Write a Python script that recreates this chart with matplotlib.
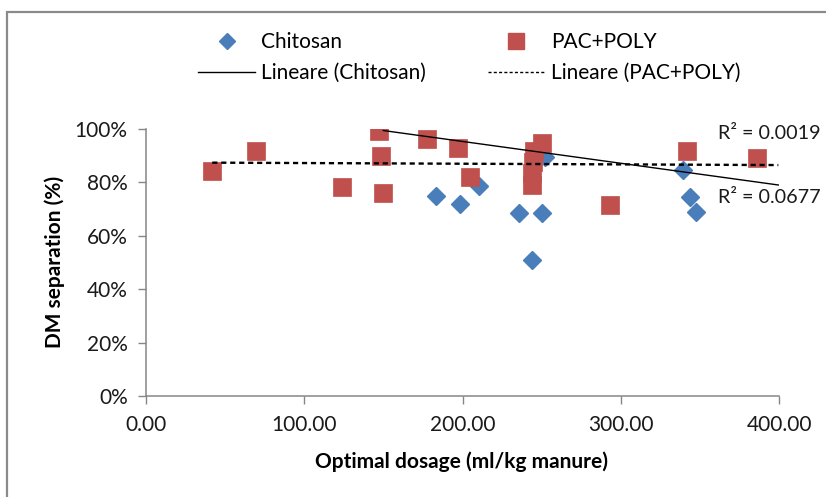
import numpy as np
import matplotlib
matplotlib.use("Agg")
import matplotlib.pyplot as plt
from matplotlib.lines import Line2D
from matplotlib.patches import Rectangle
from matplotlib.ticker import FuncFormatter

# optimal dosage (ml/kg manure) vs DM separation (%)
chitosan_x = [183.1, 198.4, 210.6, 235.9, 243.7, 250.0, 252.0, 339.4, 343.6, 347.2]
chitosan_y = [75.0, 71.9, 78.7, 68.7, 50.9, 68.7, 89.6, 84.6, 74.4, 69.0]

pac_x = [42.0, 69.4, 123.7, 147.5, 148.3, 150.0, 177.4, 197.4, 204.7,
         243.7, 244.0, 244.2, 245.1, 250.4, 293.1, 341.9, 385.7]
pac_y = [84.4, 91.8, 78.4, 99.3, 89.9, 75.9, 96.3, 93.0, 82.1,
         83.6, 79.0, 87.5, 91.9, 94.8, 71.5, 91.9, 89.0]

# linear trendlines (slope, intercept, x range) and their R² values
chitosan_fit = (-0.0818, 111.7, (150.0, 399.4))
pac_fit = (-0.00252, 87.5, (42.0, 399.4))
r2_pac = 0.0019
r2_chitosan = 0.0677

xticks = [0, 100, 200, 300, 400]
yticks = [0, 20, 40, 60, 80, 100]

BLUE = "#4a7ebb"
RED = "#c0504d"
GRID = "#868686"

plt.rcParams["font.family"] = ["Lato", "DejaVu Sans"]
plt.rcParams["font.size"] = 15

fig = plt.figure(figsize=(8.26, 4.97), dpi=100)
ax = fig.add_axes([145.7 / 826, 101 / 497, 633.6 / 826, 267 / 497])

# outer chart frame
fig.patches.append(Rectangle((7 / 826, -0.2), 1.2, (497 - 12) / 497 + 0.2,
                             transform=fig.transFigure, fill=False,
                             edgecolor="#8a8a8a", lw=1.6))

ax.plot(chitosan_x, chitosan_y, ls="none", marker="D", ms=9.5, color=BLUE,
        mec=BLUE, zorder=3)
ax.plot(pac_x, pac_y, ls="none", marker="s", ms=13, color=RED, mec=RED,
        mew=0.5, zorder=4)

for (m, q, (x0, x1)), ls in [(chitosan_fit, "-"), (pac_fit, (0, (2.2, 1.6)))]:
    xx = np.array([x0, x1])
    lw = 1.0 if ls == "-" else 1.7
    ax.plot(xx, m * xx + q, color="black", ls=ls, lw=lw, zorder=5)

ax.text(361, 98.5, f"R² = {r2_pac:.4f}", va="center", ha="left",
        clip_on=False, color="#1a1a1a", fontsize=14.2)
ax.text(361, 74.2, f"R² = {r2_chitosan:.4f}", va="center", ha="left",
        clip_on=False, color="#1a1a1a", fontsize=14.2)

ax.set_xlim(0, 400)
ax.set_ylim(0, 100)
ax.set_xticks(xticks)
ax.set_yticks(yticks)
ax.xaxis.set_major_formatter(FuncFormatter(lambda v, p: f"{v:.2f}"))
ax.yaxis.set_major_formatter(FuncFormatter(lambda v, p: f"{v:.0f}%"))
for s in ["top", "right"]:
    ax.spines[s].set_visible(False)
for s in ["left", "bottom"]:
    ax.spines[s].set_color(GRID)
    ax.spines[s].set_linewidth(1.1)
ax.tick_params(axis="both", direction="out", length=6, width=1.0,
               color=GRID, labelcolor="#1a1a1a")
ax.tick_params(axis="x", pad=8)
ax.tick_params(axis="y", pad=7)

ax.set_xlabel("Optimal dosage (ml/kg manure)", fontweight="bold")
ax.xaxis.set_label_coords(0.498, -0.247)
ax.xaxis.label.set_va("center")
ax.set_ylabel("DM separation (%)", fontweight="bold")
ax.yaxis.set_label_coords(-0.143, 0.502)
ax.yaxis.label.set_va("center")

handles = [
    Line2D([], [], ls="none", marker="D", ms=8, color=BLUE),
    Line2D([], [], color="black", lw=1.0),
    Line2D([], [], ls="none", marker="s", ms=11, color=RED),
    Line2D([], [], color="black", lw=1.0, ls=(0, (2.2, 1.6))),
]
labels = ["Chitosan", "Lineare (Chitosan)", "PAC+POLY", "Lineare (PAC+POLY)"]
fig.legend(handles, labels, ncol=2, loc="upper left",
           bbox_to_anchor=(188 / 826, 1 - 22 / 497), frameon=False,
           borderpad=0, handlelength=2.7, handletextpad=0.3,
           columnspacing=3.0, labelspacing=0.5)

fig.savefig("out.png", dpi=100)
